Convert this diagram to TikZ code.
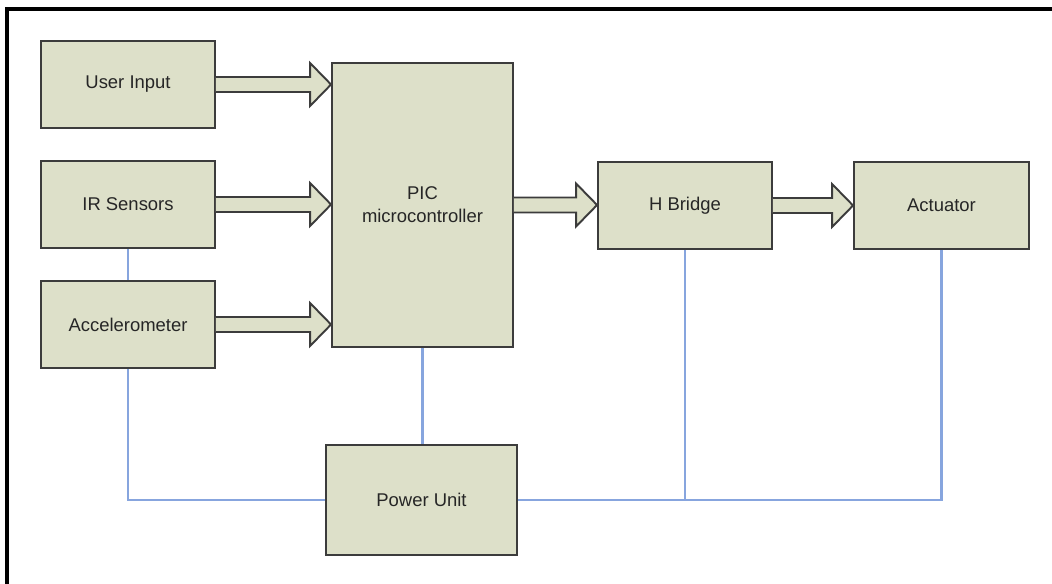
\documentclass[tikz,border=0pt]{standalone}
\usepackage{fontspec}
\setmainfont{Liberation Sans}
\usepackage{xcolor}
\usepackage{tikz}
\usetikzlibrary{positioning, calc}

\definecolor{boxfill}{RGB}{221,224,201}
\definecolor{boxline}{RGB}{60,60,60}
\definecolor{busblue}{RGB}{135,165,222}

% block arrow from #1 (start) to #2 (tip)
\newcommand{\fatarrow}[2]{%
  \filldraw[fatarr] ($(#1)+(0,-7.5)$) -- ($(#2)+(-21,-7.5)$) -- ($(#2)+(-21,-21.5)$)
    -- (#2) -- ($(#2)+(-21,21.5)$) -- ($(#2)+(-21,7.5)$) -- ($(#1)+(0,7.5)$);
}

\begin{document}
\begin{tikzpicture}[x=0.02cm,y=-0.02cm]
						\tikzstyle{block}=[rectangle,draw=boxline,fill=boxfill,line width=1.1pt,text=black!85,font=\fontsize{10.5}{13}\selectfont,align=center,inner sep=0pt]
						\tikzstyle{fatarr}=[draw=boxline,fill=boxfill,line width=1.1pt,line join=miter]
						\tikzstyle{bus}=[busblue,line width=1.2pt]
						\useasboundingbox (0,0) rectangle (1052,584);
						\draw[line width=2.2pt] (7,584) -- (7,9) -- (1052,9);

						\node[block,minimum width=3.48cm,minimum height=1.74cm](ui) at (128,84.5) {User Input};
						\node[block,minimum width=3.48cm,minimum height=1.74cm](ir) at (128,204.5) {IR Sensors};
						\node[block,minimum width=3.48cm,minimum height=1.74cm](acc) at (128,324.5) {Accelerometer};
						\node[block,minimum width=3.62cm,minimum height=5.68cm](pic) at (422.5,205) {PIC\\microcontroller};
						\node[block,minimum width=3.48cm,minimum height=1.74cm](hb) at (685,205.5) {H Bridge};
						\node[block,minimum width=3.5cm,minimum height=1.74cm](act) at (941.5,205.5) {Actuator};
						\node[block,minimum width=3.82cm,minimum height=2.2cm](pwr) at (421.5,500) {Power Unit};

						\coordinate (t1) at (pic.west |- ui.east);
						\coordinate (t2) at (pic.west |- ir.east);
						\coordinate (t3) at (pic.west |- acc.east);
						\coordinate (t4) at (hb.west |- pic.east);
						\fatarrow{ui.east}{t1}
						\fatarrow{ir.east}{t2}
						\fatarrow{acc.east}{t3}
						\fatarrow{pic.east}{t4}
						\fatarrow{hb.east}{act.west}

						\draw[bus](ir) -- (acc);
						\draw[bus](acc.south) |- (pwr.west);
						\draw[bus](pic.south) -- (pic.south |- pwr.north);
						\draw[bus](pwr.east) -| (act.south);
						\draw[bus](hb.south) -- (hb.south |- pwr.east);
					\end{tikzpicture}
\end{document}
